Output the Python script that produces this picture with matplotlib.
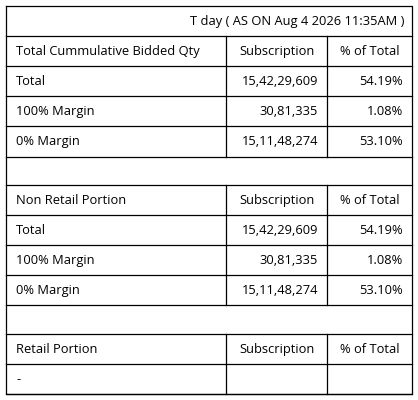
import matplotlib.pyplot as plt

title = "T day ( AS ON Aug 4 2026 11:35AM )"
sections = [
    ("Total Cummulative Bidded Qty",
     [("Total", "15,42,29,609", "54.19%"),
      ("100% Margin", "30,81,335", "1.08%"),
      ("0% Margin", "15,11,48,274", "53.10%")]),
    ("Non Retail Portion",
     [("Total", "15,42,29,609", "54.19%"),
      ("100% Margin", "30,81,335", "1.08%"),
      ("0% Margin", "15,11,48,274", "53.10%")]),
    ("Retail Portion",
     [("-", "", "")]),
]
col_heads = ["Subscription", "% of Total"]

plt.rcParams['font.family'] = ['Open Sans', 'DejaVu Sans']
fig = plt.figure(figsize=(4.18, 4.0), dpi=100)
ax = fig.add_axes([0, 0, 1, 1])
ax.set_xlim(0, 418)
ax.set_ylim(400, 0)
ax.axis('off')

L, C1, C2, R = 6, 226, 327, 412
rh = 30.1
lw = 0.9
fs = 9.3


def hline(y):
    ax.plot([L, R], [y, y], color='black', lw=lw)


def row(y, cells):
    hline(y)
    for x in (C1, C2):
        ax.plot([x, x], [y, y + rh], color='black', lw=lw)
    yc = y + rh / 2
    ax.text(L + 10, yc, cells[0], va='center', ha='left', fontsize=fs)
    ax.text(C1 + 10, yc, cells[1], va='center', ha='left' if cells[1] in col_heads else 'right', fontsize=fs) if False else None
    if cells[1] in col_heads:
        ax.text((C1 + C2) / 2, yc, cells[1], va='center', ha='center', fontsize=fs)
        ax.text((C2 + R) / 2, yc, cells[2], va='center', ha='center', fontsize=fs)
    else:
        ax.text(C2 - 9, yc, cells[1], va='center', ha='right', fontsize=fs)
        ax.text(R - 9, yc, cells[2], va='center', ha='right', fontsize=fs)


y = 6
ax.text(R - 8, y + rh / 2, title, va='center', ha='right', fontsize=fs)
y += rh
for i, (head, rows) in enumerate(sections):
    row(y, (head, *col_heads))
    y += rh
    for r in rows:
        row(y, r)
        y += rh
    if i < len(sections) - 1:
        hline(y)
        y += rh * 0.95
hline(y)
ax.plot([L, L, R, R, L], [6, y, y, 6, 6], color='black', lw=lw)

fig.savefig('out.png', dpi=100)
